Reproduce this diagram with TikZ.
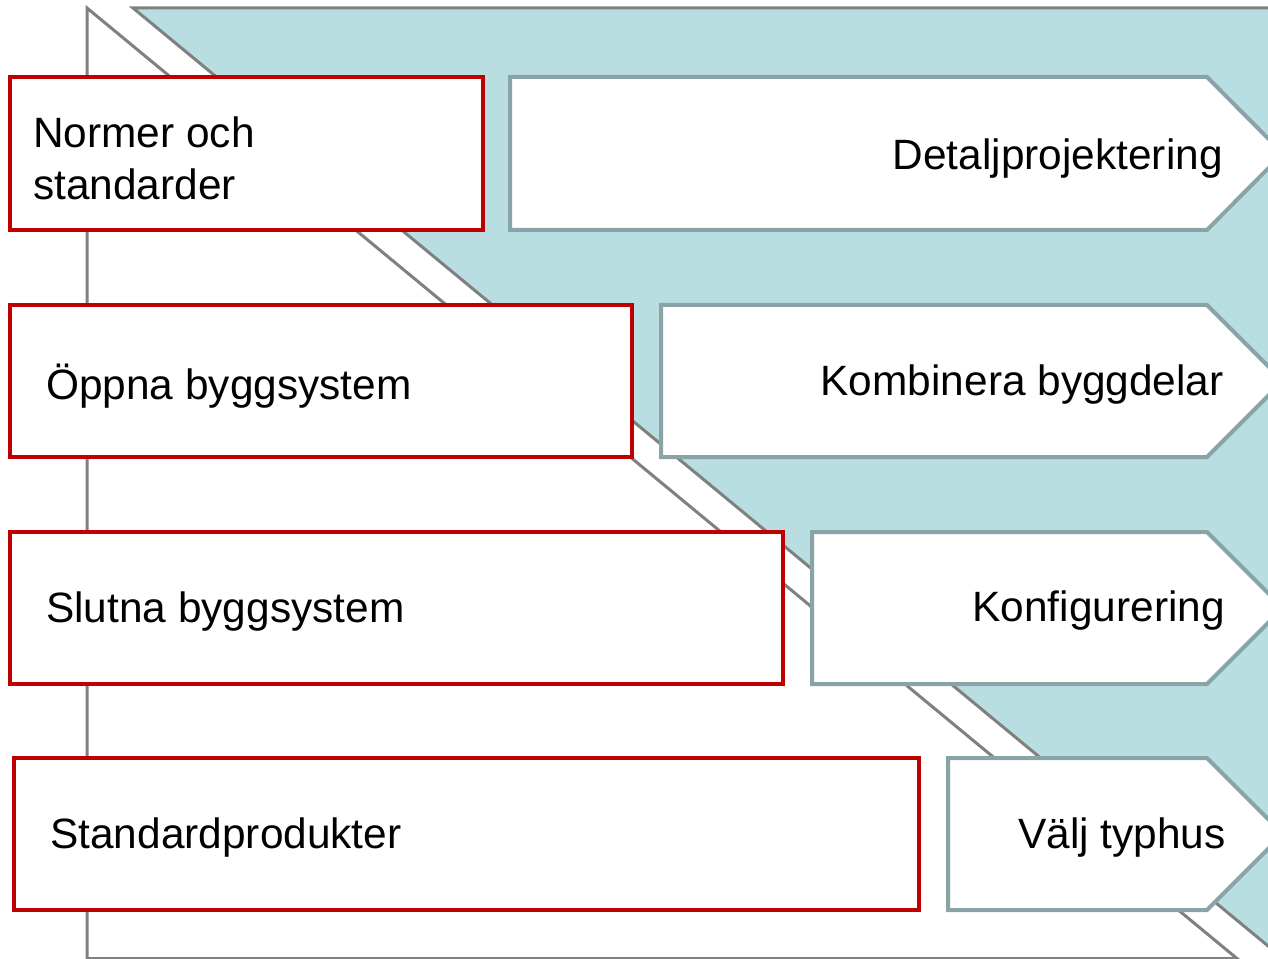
\documentclass[tikz,border=0pt]{standalone}
\usepackage{fontspec}
\setmainfont{Liberation Sans}
\definecolor{boxred}{RGB}{192,0,0}
\definecolor{arrowgray}{RGB}{137,164,166}
\definecolor{tealfill}{RGB}{185,222,226}
\definecolor{linegray}{RGB}{128,128,128}
\begin{document}
\begin{tikzpicture}[x=0.75pt,y=0.75pt,yscale=-1,xscale=1,
  redbox/.style={draw=boxred, line width=3pt, fill=white},
  stepbox/.style={draw=arrowgray, line width=3pt, fill=white},
  lbl/.style={font=\fontsize{31.8}{39}\selectfont, inner sep=0pt}]
\useasboundingbox (0,0) rectangle (1268,959);
\clip (0,0) rectangle (1268,959);

% background triangles
\draw [draw=linegray, line width=2.25pt, fill=white] (87,8) -- (87,958.5) -- (1237,958.5) -- cycle ;
\draw [draw=linegray, line width=2.25pt, fill=tealfill] (133,8) -- (1400,8) -- (1400,1055) -- cycle ;

% red boxes
\draw [redbox] (10,77) rectangle (483,230) ;
\draw [redbox] (10,305) rectangle (632,457) ;
\draw [redbox] (10,532) rectangle (783,684) ;
\draw [redbox] (14,758) rectangle (919,910) ;

% arrows
\draw [stepbox] (510,77) -- (1207,77) -- (1283,153.5) -- (1207,230) -- (510,230) -- cycle ;
\draw [stepbox] (661,305) -- (1207,305) -- (1283,381) -- (1207,457) -- (661,457) -- cycle ;
\draw [stepbox] (812,532) -- (1207,532) -- (1283,608) -- (1207,684) -- (812,684) -- cycle ;
\draw [stepbox] (948,758) -- (1207,758) -- (1283,834) -- (1207,910) -- (948,910) -- cycle ;

\node [lbl, anchor=west, align=left] (normer) at (33,158) {Normer och\\standarder};
\node [lbl, anchor=west] (oppna) at (46,386) {Öppna byggsystem};
\node [lbl, anchor=west] (slutna) at (46,612) {Slutna byggsystem};
\node [lbl, anchor=west] (standard) at (50,838) {Standardprodukter};

\node [lbl, anchor=east] (detalj) at (1223,159) {Detaljprojektering};
\node [lbl, anchor=east] (kombinera) at (1224,385) {Kombinera byggdelar};
\node [lbl, anchor=east] (konfig) at (1225,611) {Konfigurering};
\node [lbl, anchor=east] (valj) at (1226,838) {Välj typhus};

\end{tikzpicture}
\end{document}
